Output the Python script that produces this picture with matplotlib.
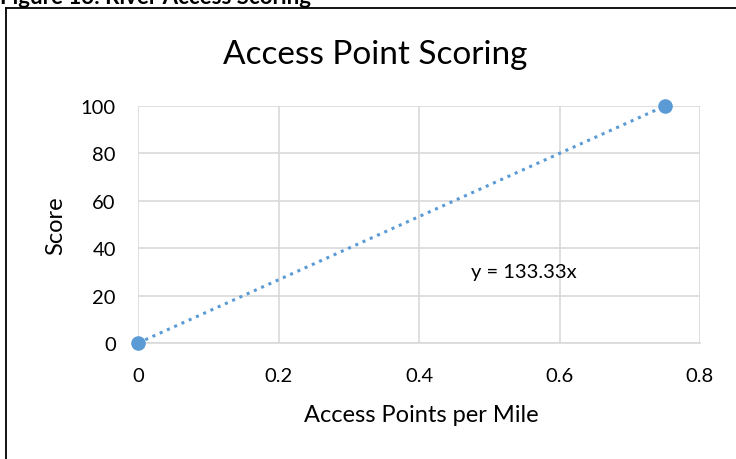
import matplotlib
matplotlib.use("Agg")
import matplotlib.pyplot as plt

# data
access_points = [0, 0.75]
scores = [0, 100]
slope = 133.33
x_ticks = [0, 0.2, 0.4, 0.6, 0.8]
y_ticks = [0, 20, 40, 60, 80, 100]

blue = "#5b9bd5"
grid_col = "#d9d9d9"

plt.rcParams["font.family"] = ["Lato", "DejaVu Sans"]

fig = plt.figure(figsize=(7.36, 4.6), dpi=100)

# caption cut off at the top of the page
fig.text(0.0, 1 - 4 / 460, "Figure 13: River Access Scoring", fontsize=16,
         fontweight="bold", ha="left", va="baseline")

# outer chart border (top and left visible)
fig.add_artist(plt.Line2D([6 / 736, 1.0], [1 - 9 / 460, 1 - 9 / 460],
                          color="black", lw=1.3, transform=fig.transFigure))
fig.add_artist(plt.Line2D([6 / 736, 6 / 736], [0, 1 - 9 / 460],
                          color="black", lw=1.3, transform=fig.transFigure))

ax = fig.add_axes([138 / 736, (460 - 344) / 460, (700 - 138) / 736, (344 - 107) / 460])

# trendline
tx = [0, 0.75]
ty = [slope * v for v in tx]
ax.plot(tx, ty, linestyle=(0, (1, 1.6)), color=blue, lw=2.2, clip_on=False)
ax.scatter(access_points, scores, s=90, color=blue, zorder=5, clip_on=False)

ax.set_xlim(0, 0.8)
ax.set_ylim(0, 100)
ax.set_xticks(x_ticks)
ax.set_xticklabels(["0", "0.2", "0.4", "0.6", "0.8"])
ax.set_yticks(y_ticks)
ax.grid(True, color=grid_col, lw=1.2)
ax.set_axisbelow(True)
for s in ax.spines.values():
    s.set_visible(False)
ax.spines["bottom"].set_visible(True)
ax.spines["bottom"].set_color(grid_col)
ax.spines["bottom"].set_linewidth(1.2)
ax.tick_params(length=0, labelsize=14.5)
ax.tick_params(axis="x", pad=17)
ax.tick_params(axis="y", pad=16)

ax.text(0.474, 30, "y = 133.33x", fontsize=14.5, ha="left", va="center")

fig.text(375 / 736, 1 - 55 / 460, "Access Point Scoring", fontsize=24,
         ha="center", va="center")
ax.set_xlabel("Access Points per Mile", fontsize=17)
ax.set_ylabel("Score", fontsize=17)
ax.xaxis.set_label_coords(0.505, -0.30)
ax.yaxis.set_label_coords(-0.146, 0.5)
ax.xaxis.label.set_va("center")
ax.yaxis.label.set_va("center")

fig.savefig("out.png", dpi=100)
